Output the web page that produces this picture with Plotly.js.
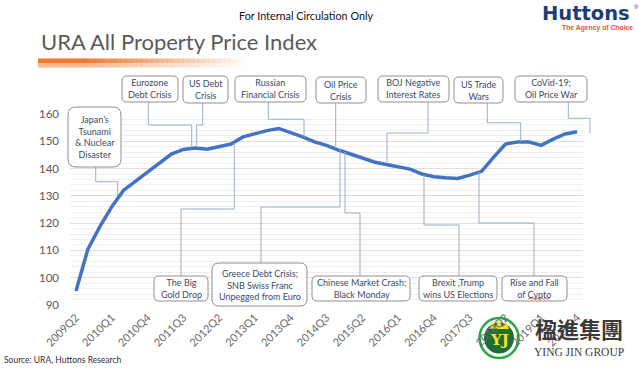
<!DOCTYPE html>
<html><head><meta charset="utf-8">
<script src="https://cdn.plot.ly/plotly-3.0.1.min.js"></script>
<style>html,body{margin:0;padding:0;background:#fff;overflow:hidden}#chart{width:639px;height:369px}</style>
</head><body><div id="chart"></div>
<script>
// ---- data ----
const quarters = ['2009Q2','2009Q3','2009Q4','2010Q1','2010Q2','2010Q3','2010Q4','2011Q1','2011Q2','2011Q3','2011Q4',
  '2012Q1','2012Q2','2012Q3','2012Q4','2013Q1','2013Q2','2013Q3','2013Q4','2014Q1','2014Q2','2014Q3','2014Q4',
  '2015Q1','2015Q2','2015Q3','2015Q4','2016Q1','2016Q2','2016Q3','2016Q4','2017Q1','2017Q2','2017Q3','2017Q4',
  '2018Q1','2018Q2','2018Q3','2018Q4','2019Q1','2019Q2','2019Q3','2019Q4'];
const priceIndex = [95.1,110.5,118.7,126.0,132.1,135.4,138.8,142.3,145.3,147.0,147.5,
  147.1,147.9,149.0,151.6,152.9,153.9,154.7,153.3,151.6,149.8,148.5,146.8,
  145.3,143.8,142.4,141.5,140.7,139.8,138.0,137.0,136.6,136.4,137.6,139.0,
  144.1,149.0,149.7,149.7,148.5,150.8,152.7,153.5];
const tickLabels = ['2009Q2','2010Q1','2010Q4','2011Q3','2012Q2','2013Q1','2013Q4','2014Q3','2015Q2','2016Q1','2016Q4','2017Q3','2018Q2','2019Q1','2019Q4'];
const yTicks = [90,100,110,120,130,140,150,160];
const eventLabels = [
  'Japan’s<br>Tsunami<br>& Nuclear<br>Disaster',
  'Eurozone<br>Debt Crisis',
  'US Debt<br>Crisis',
  'Russian<br>Financial Crisis',
  'Oil Price<br>Crisis',
  'BOJ Negative<br>Interest Rates',
  'US Trade<br>Wars',
  'CoVid-19;<br>Oil Price War',
  'The Big<br>Gold Drop',
  'Greece Debt Crisis;<br>SNB Swiss Franc<br>Unpegged from Euro',
  'Chinese Market Crash;<br>Black Monday',
  'Brexit ,Trump<br>wins US Elections',
  'Rise and Fall<br>of Cypto'
];

// ---- layout geometry (pixels) ----
const L=70, R=583, T=114, B=305, W=R-L, H=B-T;
const X = p => (p-L)/W, Y = p => (B-p)/H;
const boxes = [
  [68,107,121,167,8],[122,76,178,102,5],[183,76,228,103,5],[235,76,306,102,5],
  [316,77,366,103,5],[378,76,449,102,5],[454,77,503,103,5],[515,76,587,102,5],
  [154,276,208,301,5],[212,263,307,306,7],[312,276,410,301,5],[419,276,497,301,5],[502,276,567,301,5]
];
const connectors = [
  [[95.7,167],[95.7,181.7],[117.7,181.7],[117.7,196]],
  [[148.3,102],[148.3,125],[191.7,125],[191.7,147]],
  [[202.7,103],[202.7,125],[196.7,125],[196.7,147]],
  [[268.3,102],[268.3,119.3],[304,119.3],[304,137]],
  [[335.7,103],[335.7,148]],
  [[428,102],[428,133],[387,133],[387,162]],
  [[487.3,103],[487.3,122.7],[520.7,122.7],[520.7,141.7]],
  [[568.3,102],[568.3,118.3],[590,118.3],[590,133.3]],
  [[181,276],[181,209],[234.3,209],[234.3,143]],
  [[261,263],[261,207],[340,207],[340,149]],
  [[360,276],[360,213],[345,213],[345,152]],
  [[459,276],[459,225],[424,225],[424,175]],
  [[534,276],[534,223],[479,223],[479,172]]
];

function rr(x0,y0,x1,y1,r){
  const p=(x,y)=>X(x)+','+Y(y);
  return 'M'+p(x0+r,y0)+' L'+p(x1-r,y0)+' Q'+p(x1,y0)+' '+p(x1,y0+r)+' L'+p(x1,y1-r)+' Q'+p(x1,y1)+' '+p(x1-r,y1)+
    ' L'+p(x0+r,y1)+' Q'+p(x0,y1)+' '+p(x0,y1-r)+' L'+p(x0,y0+r)+' Q'+p(x0,y0)+' '+p(x0+r,y0)+' Z';
}
const shapes=[], annotations=[];
const textFont={family:'Lato, sans-serif',size:9,color:'#3b4a66'};
connectors.forEach(c=>{
  shapes.push({type:'path',xref:'paper',yref:'paper',layer:'above',
    path:c.map((pt,i)=>(i?'L':'M')+X(pt[0])+','+Y(pt[1])).join(' '),
    line:{color:'#9aaec8',width:1}});
});
boxes.forEach((b,i)=>{
  shapes.push({type:'path',xref:'paper',yref:'paper',layer:'above',path:rr(b[0],b[1],b[2],b[3],b[4]),
    fillcolor:'#ffffff',line:{color:'#8f8f8f',width:1}});
  annotations.push({xref:'paper',yref:'paper',x:X((b[0]+b[2])/2),y:Y((b[1]+b[3])/2),xanchor:'center',yanchor:'middle',
    text:eventLabels[i],showarrow:false,font:textFont,align:'center'});
});
// spell-check squiggle under "Cypto"
let sq='M'+X(528)+','+Y(299);
for(let k=1;k<=11;k++){sq+=' L'+X(528+k*2)+','+Y(k%2?298:299.3);}
shapes.push({type:'path',xref:'paper',yref:'paper',layer:'above',path:sq,line:{color:'#e04040',width:0.8}});

// orange gradient bar
const nSeg=40, bx0=38, bx1=245;
for(let k=0;k<nSeg;k++){
  const t=k/nSeg, op=t<0.2?1:Math.max(0,1-(t-0.2)/0.8);
  const a=bx0+(bx1-bx0)*k/nSeg, b2=bx0+(bx1-bx0)*(k+1)/nSeg+0.5;
  shapes.push({type:'rect',xref:'paper',yref:'paper',layer:'above',x0:X(a),x1:X(b2),y0:Y(58.5),y1:Y(63),
    fillcolor:'rgb(236,122,48)',opacity:op,line:{width:0}});
  shapes.push({type:'rect',xref:'paper',yref:'paper',layer:'above',x0:X(a),x1:X(b2),y0:Y(63),y1:Y(67.5),
    fillcolor:'rgb(245,178,132)',opacity:op*0.9,line:{width:0}});
}
// Ying Jin logo circle
shapes.push({type:'circle',xref:'paper',yref:'paper',layer:'below',x0:X(479.5),x1:X(518.5),y0:Y(318),y1:Y(358),
  fillcolor:'#ffffff',line:{color:'#27a844',width:2.5}});
shapes.push({type:'circle',xref:'paper',yref:'paper',layer:'below',x0:X(484),x1:X(514),y0:Y(322.5),y1:Y(353.5),
  fillcolor:'#1f6b3b',line:{width:0}});
shapes.push({type:'path',xref:'paper',yref:'paper',layer:'below',
  path:'M'+X(489)+','+Y(329)+' L'+X(492)+','+Y(322)+' L'+X(495.5)+','+Y(327)+' L'+X(499)+','+Y(320)+' L'+X(502.5)+','+Y(327)+' L'+X(506)+','+Y(322)+' L'+X(509)+','+Y(329)+' Z',
  fillcolor:'#f3e61a',line:{width:0}});

const txt=(x,y,s,font,xa,ya)=>annotations.push({xref:'paper',yref:'paper',x:X(x),y:Y(y),text:s,showarrow:false,
  xanchor:xa||'center',yanchor:ya||'middle',font:font});
txt(306,15,'For Internal Circulation Only',{family:'Lato, sans-serif',size:10.8,color:'#111111'});
txt(632,14,'Huttons',{family:'DejaVu Sans, sans-serif',size:19.5,color:'#1d3c78',weight:'bold'},'right');
txt(636,7,'®',{family:'Liberation Sans, sans-serif',size:6,color:'#1d3c78'},'center');
txt(635,28.5,'The Agency of Choice',{family:'Liberation Sans, sans-serif',size:6.8,color:'#e8562a',weight:'bold'},'right');
txt(2,360,'Source: URA, Huttons Research',{family:'Lato, sans-serif',size:8.5,color:'#333333'},'left');
txt(499,340,'<b>YJ</b>',{family:'DejaVu Serif, serif',size:15,color:'#f3e61a'});
txt(579,328,'楹進集團',{family:'Noto Sans CJK TC, sans-serif',size:22,color:'#3a3a3a',weight:'bold'});
txt(579,351.5,'YING JIN GROUP',{family:'Liberation Serif, serif',size:11.5,color:'#3a3a3a'});

const trace={type:'scatter',mode:'lines',x:quarters,y:priceIndex,line:{color:'#4472c4',width:3.5},hoverinfo:'x+y'};
const layout={
  width:639,height:369,margin:{l:L,r:639-R,t:T,b:369-B,pad:0},
  paper_bgcolor:'#ffffff',plot_bgcolor:'#ffffff',showlegend:false,
  title:{text:'URA All Property Price Index',xref:'container',yref:'container',x:41/639,xanchor:'left',y:1-42/369,yanchor:'middle',
    font:{family:'Lato, sans-serif',size:22,color:'#5a5a5a'}},
  xaxis:{type:'category',categoryorder:'array',categoryarray:quarters,range:[-0.5,quarters.length-0.5],
    tickvals:tickLabels,ticktext:tickLabels,tickangle:-45,showgrid:false,zeroline:false,showline:false,ticks:'',
    ticklabelstandoff:3,tickfont:{family:'Lato, sans-serif',size:11,color:'#6a6a6a'}},
  yaxis:{range:[90,160],tickvals:yTicks,showgrid:true,gridcolor:'#dedede',gridwidth:1,zeroline:false,showline:false,ticks:'',
    ticklabelstandoff:10,tickfont:{family:'Lato, sans-serif',size:11.5,color:'#595959'},
    minor:{dtick:2,showgrid:true,gridcolor:'#efefef',gridwidth:1}},
  shapes:shapes,annotations:annotations
};
Plotly.newPlot('chart',[trace],layout,{displayModeBar:false,staticPlot:true});
</script></body></html>
